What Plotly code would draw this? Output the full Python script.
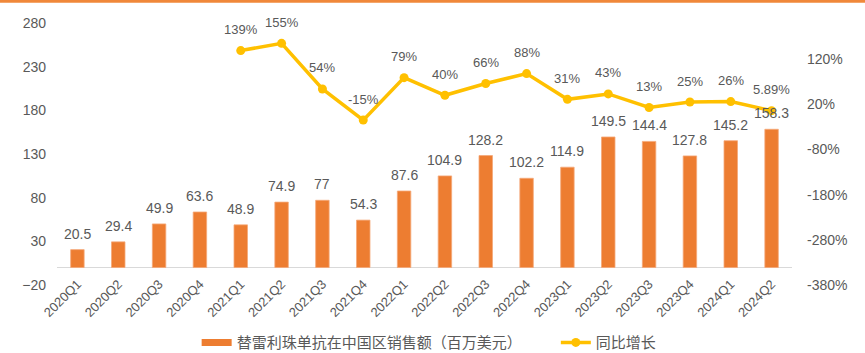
import plotly.graph_objects as go

categories = ["2020Q1", "2020Q2", "2020Q3", "2020Q4", "2021Q1", "2021Q2", "2021Q3", "2021Q4",
              "2022Q1", "2022Q2", "2022Q3", "2022Q4", "2023Q1", "2023Q2", "2023Q3", "2023Q4",
              "2024Q1", "2024Q2"]
sales = [20.5, 29.4, 49.9, 63.6, 48.9, 74.9, 77, 54.3, 87.6, 104.9, 128.2, 102.2, 114.9,
         149.5, 144.4, 127.8, 145.2, 158.3]
sales_labels = ["20.5", "29.4", "49.9", "63.6", "48.9", "74.9", "77", "54.3", "87.6", "104.9",
                "128.2", "102.2", "114.9", "149.5", "144.4", "127.8", "145.2", "158.3"]
growth = [None, None, None, None, 139, 155, 54, -15, 79, 40, 66, 88, 31, 43, 13, 25, 26, 5.89]
growth_labels = ["", "", "", "", "139%", "155%", "54%", "-15%", "79%", "40%", "66%", "88%",
                 "31%", "43%", "13%", "25%", "26%", "5.89%"]
left_ticks = [-20, 30, 80, 130, 180, 230, 280]
right_ticks = [-380, -280, -180, -80, 20, 120]
right_tick_labels = ["-380%", "-280%", "-180%", "-80%", "20%", "120%"]
name_bar = "替雷利珠单抗在中国区销售额（百万美元）"
name_line = "同比增长"

FONT = "Liberation Sans, Arial, Noto Sans CJK SC, sans-serif"
GRAY = "#595959"
ORANGE = "#ED7D31"
YELLOW = "#FFC000"

fig = go.Figure()
fig.add_trace(go.Bar(
    x=categories, y=sales, cliponaxis=False,
    marker=dict(color=ORANGE, line=dict(color="#F5A878", width=0.8)),
    name=name_bar, showlegend=False, yaxis="y"))
fig.add_trace(go.Scatter(
    x=[None], y=[None], mode="lines", line=dict(color=ORANGE, width=7),
    name=name_bar + "\u00a0" * 7, yaxis="y"))
fig.add_trace(go.Scatter(
    x=categories, y=growth, mode="lines+markers",
    line=dict(color=YELLOW, width=3.5), marker=dict(color=YELLOW, size=9),
    cliponaxis=False, name=name_line, yaxis="y2", connectgaps=False))

annotations = []
for c, v, t in zip(categories, sales, sales_labels):
    annotations.append(dict(x=c, y=v, xref="x", yref="y", text=t, showarrow=False,
                            yshift=16, font=dict(size=14, color=GRAY, family=FONT)))
for c, v, t in zip(categories, growth, growth_labels):
    if v is None:
        continue
    annotations.append(dict(x=c, y=v, xref="x", yref="y2", text=t, showarrow=False,
                            yshift=21, font=dict(size=13, color=GRAY, family=FONT)))

fig.update_layout(
    width=865, height=353,
    margin=dict(l=57, r=73, t=23, b=68, autoexpand=False),
    paper_bgcolor="white", plot_bgcolor="white",
    font=dict(family=FONT, color=GRAY),
    bargap=0.67,
    annotations=annotations,
    xaxis=dict(type="category", range=[-0.5, 17.5], showline=False, showgrid=False,
               ticks="", tickangle=-45, tickfont=dict(size=13, color=GRAY), automargin=False,
               ticklabelstandoff=-12),
    yaxis=dict(range=[-20, 280], tickvals=left_ticks, showgrid=False, zeroline=True,
               zerolinecolor="#D9D9D9", zerolinewidth=1.2, showline=False,
               tickfont=dict(size=14, color=GRAY), ticklabelstandoff=10, automargin=False),
    yaxis2=dict(range=[-380, 200], tickvals=right_ticks, ticktext=right_tick_labels,
                overlaying="y", side="right", showgrid=False, zeroline=False, showline=False,
                tickfont=dict(size=14, color=GRAY), ticklabelstandoff=14, automargin=False),
    legend=dict(orientation="h", x=0.19, xanchor="left", y=-0.22, yanchor="middle",
                font=dict(size=15, color=GRAY), bgcolor="rgba(0,0,0,0)"),
    shapes=[dict(type="rect", xref="paper", yref="paper", x0=-0.1, x1=1.2,
                 y0=1 + 20.3 / 262, y1=1 + 23 / 262, fillcolor="#F0883A", line=dict(width=0),
                 layer="above")],
)

fig.write_html("out.html")
